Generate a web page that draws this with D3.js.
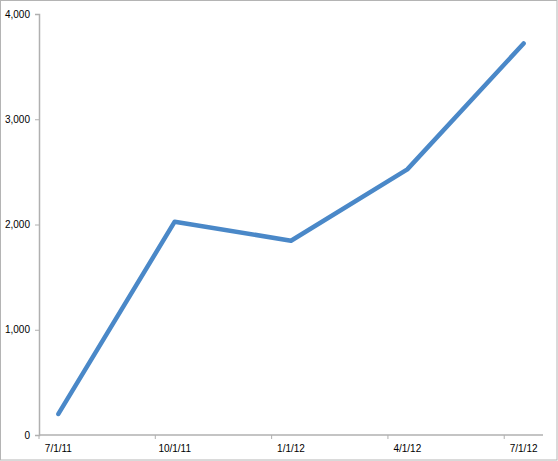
<!DOCTYPE html>
<html>
<head>
<meta charset="utf-8">
<script src="https://cdn.jsdelivr.net/npm/d3@7"></script>
<style>
  body { margin: 0; background: #fff; }
  svg { display: block; }
  .tick text { font-family: "Liberation Sans", Arial, sans-serif; font-size: 10px; fill: #000; }
</style>
</head>
<body>
<svg id="chart" width="558" height="461"></svg>
<script>
// monthly date axis, 7/1/11 .. 7/1/12, one value per quarter
const months = ["2011-07", "2011-08", "2011-09", "2011-10", "2011-11", "2011-12",
  "2012-01", "2012-02", "2012-03", "2012-04", "2012-05", "2012-06", "2012-07"];
const dates = ["2011-07", "2011-10", "2012-01", "2012-04", "2012-07"];
const dateLabels = ["7/1/11", "10/1/11", "1/1/12", "4/1/12", "7/1/12"];
const values = [200, 2027, 1846, 2524, 3720];
const yTicks = [0, 1000, 2000, 3000, 4000];

const width = 558;
const height = 461;
const margin = { top: 14, right: 15, bottom: 26, left: 39 };

const svg = d3.select("#chart");

// frame around the picture
svg.append("rect")
  .attr("x", 0.5).attr("y", 0.5)
  .attr("width", width - 1.5).attr("height", height - 1.5)
  .attr("fill", "none")
  .attr("stroke", "#b4b4b4");

const g = svg.append("g")
  .attr("transform", "translate(" + margin.left + "," + margin.top + ")");

const w = width - margin.left - margin.right;
const h = height - margin.top - margin.bottom;

const x = d3.scaleBand().domain(months).range([0, w]).padding(0);
const y = d3.scaleLinear().domain([0, 4000]).range([h, 0]);

const axisColor = "#b0b0b0";

// y axis
const yAxis = g.append("g")
  .call(d3.axisLeft(y).tickValues(yTicks).tickSize(4).tickPadding(5).tickFormat(d3.format(",")));
yAxis.select(".domain").attr("stroke", axisColor).attr("stroke-width", 1.5);
yAxis.selectAll(".tick line").attr("stroke", axisColor);

// x axis: ticks at left edge of each quarter, labels under the point
const xAxis = g.append("g").attr("transform", "translate(0," + h + ")");
xAxis.append("line")
  .attr("x1", 0).attr("x2", w)
  .attr("stroke", axisColor).attr("stroke-width", 1.5);
xAxis.selectAll(".xtick")
  .data(dates)
  .join("line")
  .attr("class", "xtick")
  .attr("x1", (d) => x(d)).attr("x2", (d) => x(d))
  .attr("y1", 0).attr("y2", 4)
  .attr("stroke", axisColor);
xAxis.selectAll(".tick")
  .data(dates)
  .join("g")
  .attr("class", "tick")
  .attr("transform", (d) => "translate(" + (x(d) + x.bandwidth() / 2) + ",0)")
  .append("text")
  .attr("y", 17)
  .attr("text-anchor", "middle")
  .text((d, i) => dateLabels[i]);

const line = d3.line()
  .x((d, i) => x(dates[i]) + x.bandwidth() / 2)
  .y((d) => y(d));

g.append("path")
  .datum(values)
  .attr("d", line)
  .attr("fill", "none")
  .attr("stroke", "#4a88c8")
  .attr("stroke-width", 4.5)
  .attr("stroke-linejoin", "round")
  .attr("stroke-linecap", "round");
</script>
</body>
</html>
